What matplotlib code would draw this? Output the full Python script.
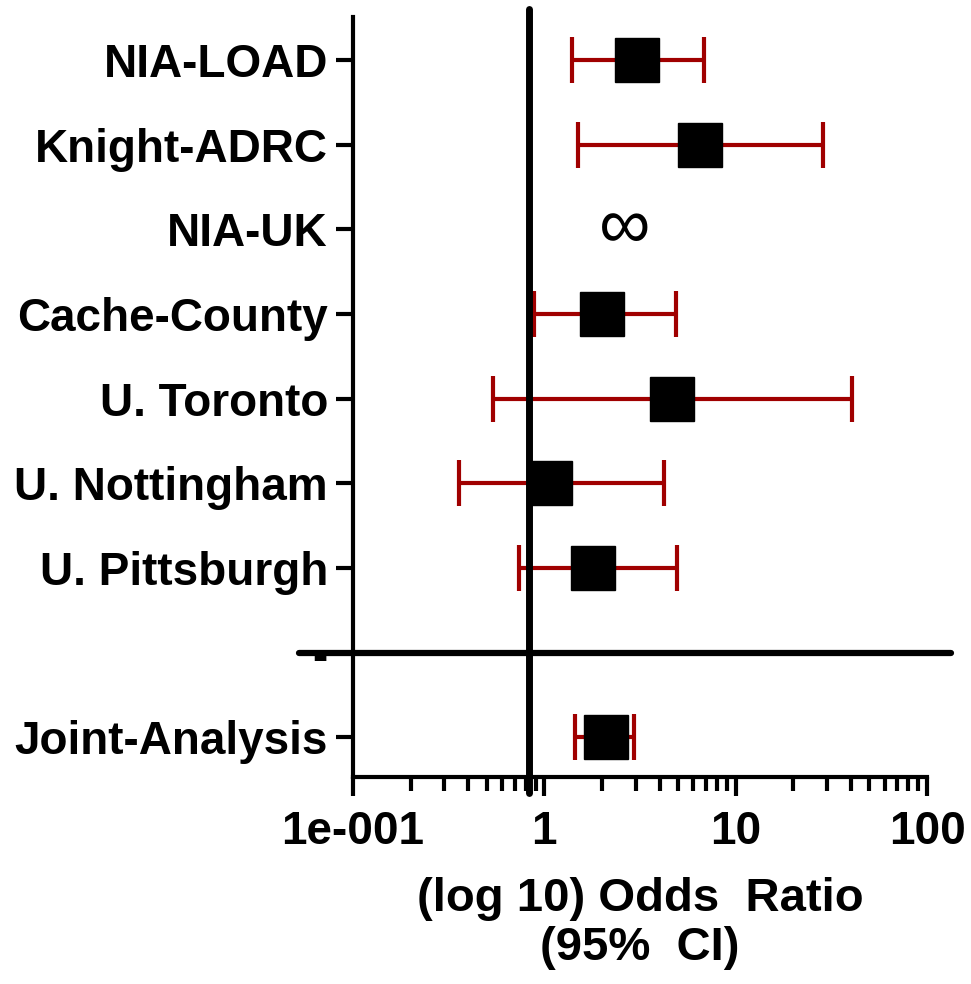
import matplotlib
matplotlib.use('Agg')
import matplotlib.pyplot as plt
from matplotlib.ticker import FixedLocator, LogLocator, NullFormatter

plt.rcParams['font.family'] = ['Liberation Sans', 'DejaVu Sans']

# data (odds ratio and 95% CI)
studies = ['NIA-LOAD', 'Knight-ADRC', 'NIA-UK', 'Cache-County', 'U. Toronto',
           'U. Nottingham', 'U. Pittsburgh', '-', 'Joint-Analysis']
odds = [3.04, 6.49, None, 2.0, 4.63, 1.07, 1.79, None, 2.09]
ci_low = [1.39, 1.50, None, 0.88, 0.54, 0.36, 0.74, None, 1.44]
ci_high = [6.81, 28.5, None, 4.86, 40.4, 4.21, 4.92, None, 2.93]
infinite_row = 2
infinite_pos = 2.63
ref_line = 0.83
sep_row = 7
xticks = [0.1, 1, 10, 100]
xticklabels = ['1e-001', '1', '10', '100']

red = '#a00000'
fig = plt.figure(figsize=(9.71, 9.84), dpi=100)
ax = fig.add_axes([0.3635, 0.2104, 0.5912, 0.7723])
ax.set_xscale('log')

for i in range(len(studies)):
  if odds[i] is None:
    continue
  ax.errorbar(odds[i], i, xerr=[[odds[i] - ci_low[i]], [ci_high[i] - odds[i]]],
              fmt='none', ecolor=red, elinewidth=3, capsize=16.5, capthick=3, zorder=2)
  ax.plot(odds[i], i, 's', color='black', ms=31.5, zorder=3)

ax.text(infinite_pos, infinite_row, '\u221e', fontsize=52, ha='center', va='center')

# reference line and separator
ax.plot([ref_line, ref_line], [-0.6, 8.66], color='black', lw=5,
        solid_capstyle='round', clip_on=False, zorder=4)
ax.plot([0.0522, 134], [sep_row, sep_row], color='black', lw=4.5,
        solid_capstyle='round', clip_on=False, zorder=4)

ax.set_xlim(0.1, 100)
ax.set_ylim(8.47, -0.51)
ax.set_yticks(range(len(studies)))
ax.set_yticklabels(studies, fontsize=33, fontweight='bold')
ax.xaxis.set_major_locator(FixedLocator(xticks))
ax.set_xticklabels(xticklabels, fontsize=33, fontweight='bold')
ax.xaxis.set_minor_locator(LogLocator(base=10, subs=range(2, 10)))
ax.xaxis.set_minor_formatter(NullFormatter())

ax.tick_params(axis='y', length=12, width=3, pad=6)
ax.tick_params(axis='x', which='major', length=14, width=3, pad=10)
ax.tick_params(axis='x', which='minor', length=10, width=3)

for s in ['top', 'right']:
  ax.spines[s].set_visible(False)
for s in ['left', 'bottom']:
  ax.spines[s].set_linewidth(3)

ax.set_xlabel('(log 10) Odds  Ratio\n(95%  CI)', fontsize=34, fontweight='bold',
              labelpad=16, linespacing=1.15)

fig.savefig('out.png', dpi=100)
